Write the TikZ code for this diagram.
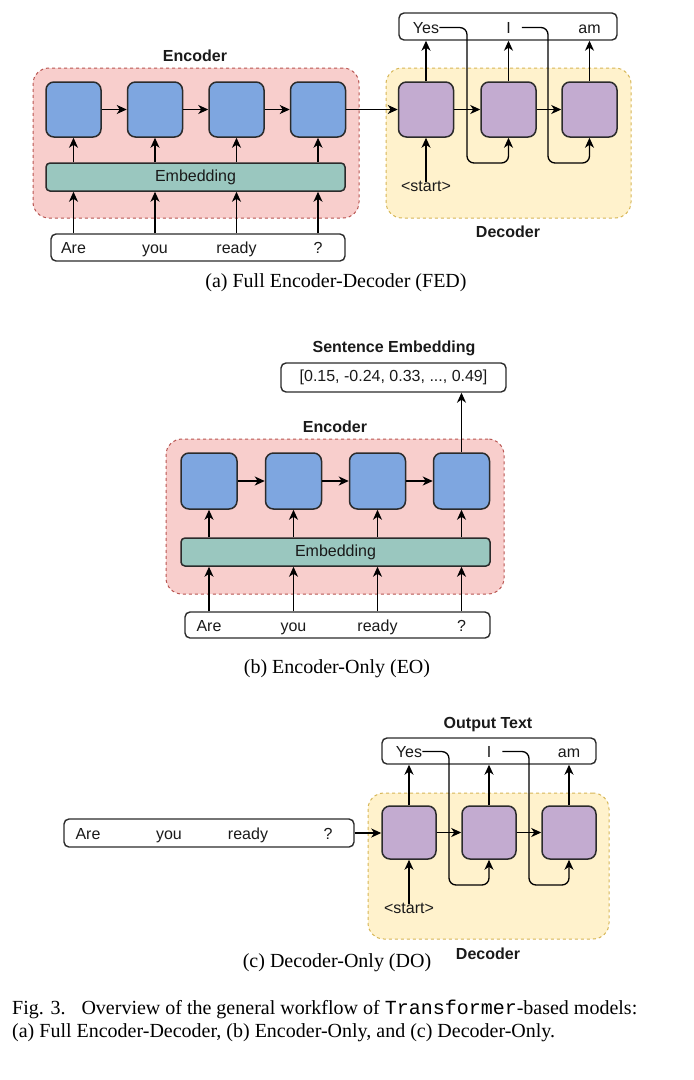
\documentclass[tikz,border=0pt]{standalone}
\usepackage{fontspec}
\setmainfont{Liberation Serif}
\setsansfont{Liberation Sans}
\setmonofont{Liberation Mono}
\usetikzlibrary{arrows.meta,calc}
\definecolor{encfill}{HTML}{F8CECC}
\definecolor{encdraw}{HTML}{B85450}
\definecolor{decfill}{HTML}{FFF2CC}
\definecolor{decdraw}{HTML}{D6B656}
\definecolor{bluebox}{HTML}{7EA6E0}
\definecolor{purplebox}{HTML}{C3ABD0}
\definecolor{embfill}{HTML}{9AC7BF}
\definecolor{edgec}{HTML}{2B2B2B}
\definecolor{txt}{HTML}{1A1A1A}
\newcommand\diagfont{\sffamily\fontsize{16}{19}\selectfont}
\newcommand\capfont{\rmfamily\fontsize{20}{23}\selectfont}
\tikzset{
  encregion/.style={draw=encdraw, fill=encfill, dash pattern=on 3pt off 3pt, line width=1pt, rounded corners=16pt, inner sep=0},
  decregion/.style={draw=decdraw, fill=decfill, dash pattern=on 3pt off 3pt, line width=1pt, rounded corners=16pt, inner sep=0},
  cell/.style={draw=edgec, line width=1.5pt, rounded corners=8pt, minimum width=55pt, minimum height=55pt, inner sep=0},
  encell/.style={cell, fill=bluebox},
  deccell/.style={cell, fill=purplebox},
  embbar/.style={draw=edgec, fill=embfill, line width=1.5pt, rounded corners=4pt, minimum height=28pt, inner sep=0, font=\diagfont, text=txt},
  textbox/.style={draw=edgec, fill=white, line width=1.4pt, rounded corners=5pt, inner sep=0, font=\diagfont, text=txt},
  word/.style={font=\diagfont, inner sep=0, anchor=base, text=txt},
  grouplabel/.style={font=\diagfont\bfseries, inner sep=0, text=txt},
  arr/.style={draw=black, line width=1.3pt, -{Stealth[length=10pt,width=9pt,inset=3pt]}},
  loopline/.style={arr, rounded corners=7pt},
  subcap/.style={font=\capfont, inner sep=0},
  figcap/.style={font=\capfont, inner sep=0, anchor=base west},
}
\begin{document}
\begin{tikzpicture}[x=1pt,y=-1pt]
\useasboundingbox (0,0) rectangle (694,1080);

% ================= (a) Full Encoder-Decoder =================
\node[encregion, minimum width=326pt, minimum height=150pt] (encA) at (196,143) {};
\node[decregion, minimum width=245pt, minimum height=150pt] (decA) at (508.5,143) {};
\node[grouplabel] (encAlab) at (195,56) {Encoder};
\node[grouplabel] (decAlab) at (508,232) {Decoder};

\node[encell] (a1) at (73.5,109.5) {};
\node[encell] (a2) at (155,109.5) {};
\node[encell] (a3) at (236.5,109.5) {};
\node[encell] (a4) at (318,109.5) {};
\node[embbar, minimum width=299pt] (embA) at (195.5,177) {Embedding};
\node[textbox, minimum width=294pt, minimum height=27pt] (inA) at (198,247.5) {};
\node[word] (wa1) at (73.5,253) {Are};
\node[word] (wa2) at (155,253) {you};
\node[word] (wa3) at (236.5,253) {ready};
\node[word] (wa4) at (318,253) {?};

\node[deccell] (d1) at (426,109.5) {};
\node[deccell] (d2) at (508.5,109.5) {};
\node[deccell] (d3) at (589.5,109.5) {};
\node[textbox, minimum width=218pt, minimum height=27pt] (outA) at (508,26.5) {};
\node[word] (ya1) at (426,33) {Yes};
\node[word] (ya2) at (508.5,33) {I};
\node[word] (ya3) at (589.5,33) {am};
\node[word] (startA) at (426,191) {\textless start\textgreater};
\coordinate (ta) at (467,163);
\coordinate (tb) at (548,163);

\foreach \i in {1,...,4} {
  \draw[arr] (wa\i |- inA.north) -- (wa\i |- embA.south);
  \draw[arr] (a\i |- embA.north) -- (a\i.south);
}
\draw[arr] (a1) -- (a2);
\draw[arr] (a2) -- (a3);
\draw[arr] (a3) -- (a4);
\draw[arr] (a4) -- (d1);
\draw[arr] (d1) -- (d2);
\draw[arr] (d2) -- (d3);
\foreach \i in {1,2,3} {
  \draw[arr] (d\i.north) -- (d\i |- outA.south);
}
\draw[arr] ([yshift=-2pt]startA.north) -- (d1.south);
\draw[loopline] (ya1.east) -| (ta) -| (d2.south);
\draw[loopline] ([xshift=11pt]ya2.east) -| (tb) -| (d3.south);

\node[subcap] (capA) at (336,283) {(a) Full Encoder-Decoder (FED)};

% ================= (b) Encoder-Only =================
\node[encregion, minimum width=338pt, minimum height=155pt] (encB) at (335,516.5) {};
\node[grouplabel] (sentlab) at (394,348) {Sentence Embedding};
\node[textbox, minimum width=225pt, minimum height=29pt] (outB) at (393.5,377.5) {[0.15, -0.24, 0.33, ..., 0.49]};
\node[grouplabel] (encBlab) at (335,427) {Encoder};
\node[encell, minimum width=56pt, minimum height=56pt] (b1) at (209,481) {};
\node[encell, minimum width=56pt, minimum height=56pt] (b2) at (293.5,481) {};
\node[encell, minimum width=56pt, minimum height=56pt] (b3) at (377.5,481) {};
\node[encell, minimum width=56pt, minimum height=56pt] (b4) at (461.5,481) {};
\node[embbar, minimum width=309pt] (embB) at (335.5,552) {Embedding};
\node[textbox, minimum width=305pt, minimum height=26pt] (inB) at (337.5,625) {};
\node[word] (wb1) at (209,631) {Are};
\node[word] (wb2) at (293.5,631) {you};
\node[word] (wb3) at (377.5,631) {ready};
\node[word] (wb4) at (461.5,631) {?};
\foreach \i in {1,...,4} {
  \draw[arr] (wb\i |- inB.north) -- (wb\i |- embB.south);
  \draw[arr] (b\i |- embB.north) -- (b\i.south);
}
\draw[arr] (b1) -- (b2);
\draw[arr] (b2) -- (b3);
\draw[arr] (b3) -- (b4);
\draw[arr] (b4.north) -- (b4 |- outB.south);

\node[subcap] (capB) at (337,669) {(b) Encoder-Only (EO)};

% ================= (c) Decoder-Only =================
\node[decregion, minimum width=241pt, minimum height=146pt] (decC) at (488.5,866) {};
\node[grouplabel] (outClab) at (488,725) {Output Text};
\node[grouplabel] (decClab) at (488,954) {Decoder};
\node[textbox, minimum width=214pt, minimum height=26pt] (outC) at (489,751) {};
\node[word] (yc1) at (409,757) {Yes};
\node[word] (yc2) at (489,757) {I};
\node[word] (yc3) at (569,757) {am};
\node[deccell, minimum width=54pt, minimum height=53pt] (c1) at (409,832.5) {};
\node[deccell, minimum width=54pt, minimum height=53pt] (c2) at (489,832.5) {};
\node[deccell, minimum width=54pt, minimum height=53pt] (c3) at (569,832.5) {};
\node[textbox, minimum width=290pt, minimum height=28pt] (inC) at (209,833) {};
\node[word] (wc1) at (88,839) {Are};
\node[word] (wc2) at (169,839) {you};
\node[word] (wc3) at (248,839) {ready};
\node[word] (wc4) at (328,839) {?};
\node[word] (startC) at (409,913) {\textless start\textgreater};
\coordinate (tc) at (449,885);
\coordinate (td) at (529,885);

\draw[arr] (inC.east) -- (inC.east -| c1.west);
\draw[arr] (c1) -- (c2);
\draw[arr] (c2) -- (c3);
\foreach \i in {1,2,3} {
  \draw[arr] (c\i.north) -- (c\i |- outC.south);
}
\draw[arr] ([yshift=-2pt]startC.north) -- (c1.south);
\draw[loopline] (yc1.east) -| (tc) -| (c2.south);
\draw[loopline] ([xshift=11pt]yc2.east) -| (td) -| (c3.south);

\node[subcap] (capC) at (337,963) {(c) Decoder-Only (DO)};

% ================= Figure caption =================
\node[figcap] (fig1) at (12,1014) {Fig. 3.\hspace{0.8em}Overview of the general workflow of \texttt{Transformer}-based models:};
\node[figcap] (fig2) at (12,1037) {(a) Full Encoder-Decoder, (b) Encoder-Only, and (c) Decoder-Only.};
\end{tikzpicture}
\end{document}
